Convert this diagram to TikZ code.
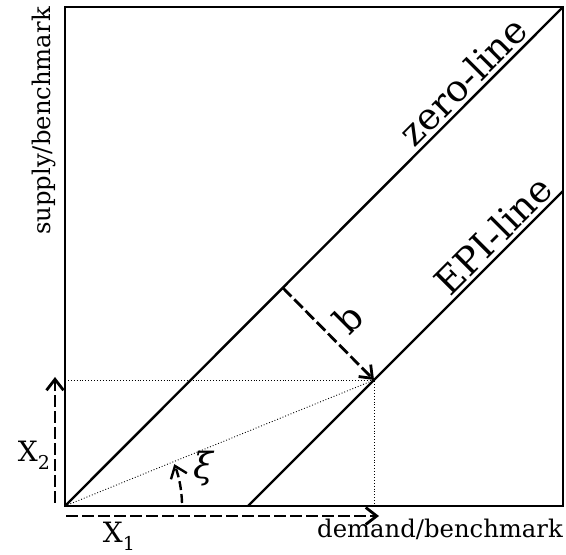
\documentclass[tikz,border=0pt]{standalone}
\usepackage{fontspec}
\setmainfont{DejaVu Serif}
\usepackage{tikz}
\usetikzlibrary{arrows.meta}
\tikzset{
  >={Straight Barb[length=11pt,width=17pt]},
  frame/.style={line width=2.4pt},
  diag/.style={line width=2.4pt},
  guide/.style={line width=0.9pt,dotted},
  darr/.style={->,line width=2.8pt,dash pattern=on 12pt off 4pt},
  lab/.style={inner sep=0pt},
  linelab/.style={sloped,anchor=south,inner sep=3pt,font=\fs{37}},
}
\newcommand{\fs}[1]{\fontsize{#1}{#1}\selectfont}
\newcommand{\subx}[1]{X\raisebox{-0.3em}{\fs{19}#1}}

\begin{document}
\begin{tikzpicture}[x=1pt,y=1pt]
\useasboundingbox (0,0) rectangle (566,555);
\coordinate (o) at (65,49);
\coordinate (tl) at (65,548);
\coordinate (br) at (563,49);
\coordinate (tr) at (563,548);
\coordinate (epib) at (248,49);
\coordinate (epit) at (563,364);
\coordinate (p) at (374,175);
\coordinate (pv) at (65,175);
\coordinate (ph) at (374,49);
\coordinate (zb) at (283,267);
\coordinate (xones) at (66,39);
\coordinate (xonee) at (379,39);
\coordinate (xtwos) at (55,52);
\coordinate (xtwoe) at (55,178);
\coordinate (xis) at (182,52);

\draw[frame] (tl) rectangle (br);
\draw[diag] (o) -- (tr) node[linelab,pos=0.825] (zero) {zero-line};
\draw[diag] (epib) -- (epit) node[linelab,pos=0.819] (epi) {EPI-line};
\draw[guide] (pv) -- (p) -- (ph);
\draw[guide] (o) -- (p);
\draw[darr] (zb) -- (p);
\draw[darr] (xones) -- (xonee);
\draw[darr] (xtwos) -- (xtwoe);
\draw[darr,line width=2.4pt,dash pattern=on 9pt off 4pt] (xis) arc[start angle=1.5,end angle=21,radius=117];

\node[lab,font=\fs{28}] (xtwo) at (34,100) {\subx{2}};
\node[lab,font=\fs{28}] (xone) at (119,19) {\subx{1}};
\node[lab,font=\fs{36}\itshape] (xi) at (203,86) {ξ};
\node[lab,font=\fs{37},rotate=45] (b) at (348,237) {b};
\node[lab,font=\fs{24.3},anchor=base east] (demand) at (563,17) {demand/benchmark};
\node[lab,font=\fs{24.3},anchor=base east,rotate=90] (supply) at (50,548) {supply/benchmark};
\end{tikzpicture}
\end{document}
